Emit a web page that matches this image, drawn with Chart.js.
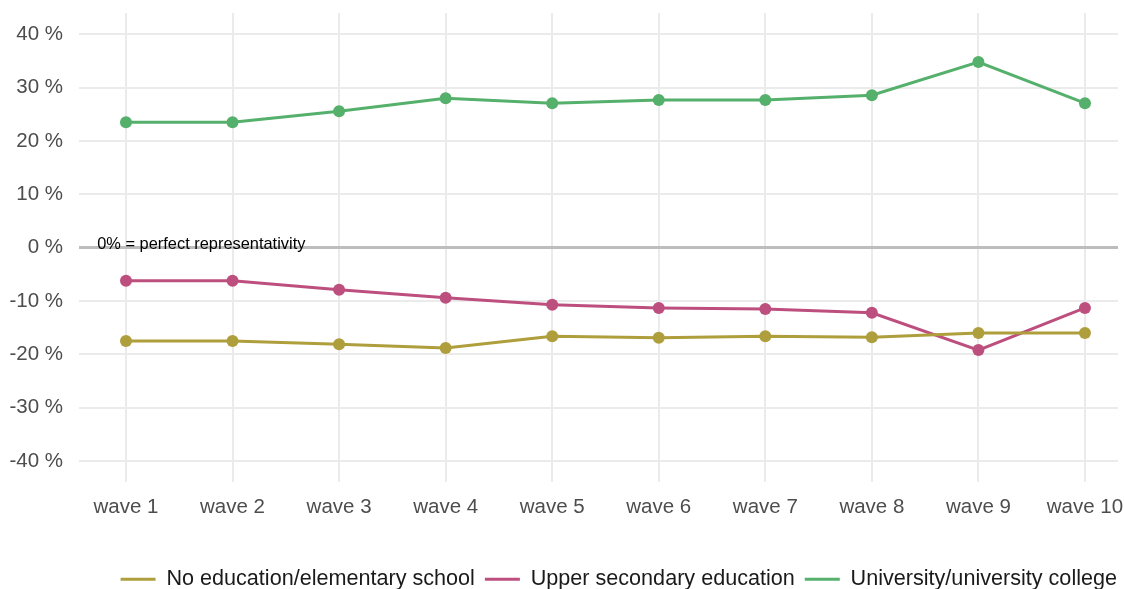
<!DOCTYPE html>
<html>
<head>
<meta charset="utf-8">
<script src="https://cdn.jsdelivr.net/npm/chart.js@4"></script>
<style>
  html, body { margin: 0; padding: 0; background: #fff; overflow: hidden; }
  #wrap { width: 1124px; height: 600px; }
</style>
</head>
<body>
<div id="wrap"><canvas id="myChart"></canvas></div>
<script>
const waves = ['wave 1', 'wave 2', 'wave 3', 'wave 4', 'wave 5', 'wave 6', 'wave 7', 'wave 8', 'wave 9', 'wave 10'];
const waveNumbers = [1, 2, 3, 4, 5, 6, 7, 8, 9, 10];

const seriesNames = ['No education/elementary school', 'Upper secondary education', 'University/university college'];
const noEducation = [-17.5, -17.5, -18.1, -18.8, -16.6, -16.9, -16.6, -16.8, -16.0, -16.0];
const upperSecondary = [-6.2, -6.2, -7.9, -9.4, -10.7, -11.3, -11.5, -12.2, -19.2, -11.3];
const university = [23.5, 23.5, 25.6, 28.0, 27.1, 27.7, 27.7, 28.6, 34.8, 27.1];

const yTicks = [-40, -30, -20, -10, 0, 10, 20, 30, 40];
const noteText = '0% = perfect representativity';

const colors = ['#af9e3c', '#bd4f7f', '#55b06c'];
const fontFamily = '"Liberation Sans", Arial, sans-serif';

function toPoints(values) {
  return values.map((v, i) => ({ x: waveNumbers[i], y: v }));
}

const data = {
  datasets: [noEducation, upperSecondary, university].map((vals, i) => ({
    label: seriesNames[i],
    data: toPoints(vals),
    borderColor: colors[i],
    backgroundColor: colors[i],
    borderWidth: 3,
    pointRadius: 6,
    pointHoverRadius: 6,
    pointBorderWidth: 0,
    tension: 0
  }))
};

// text label sitting on the zero line
const notePlugin = {
  id: 'notePlugin',
  afterDatasetsDraw(chart) {
    const ctx = chart.ctx;
    const x = chart.scales.x.getPixelForValue(0.73);
    const y = chart.scales.y.getPixelForValue(0);
    ctx.save();
    ctx.font = '16.4px ' + fontFamily;
    ctx.fillStyle = '#000';
    ctx.textAlign = 'left';
    ctx.textBaseline = 'middle';
    ctx.fillText(noteText, x, y - 3);
    ctx.restore();
  }
};

const config = {
  type: 'line',
  data: data,
  options: {
    responsive: true,
    maintainAspectRatio: false,
    animation: false,
    layout: { padding: { top: 13, right: -3, left: 0, bottom: 0 } },
    plugins: {
      tooltip: { enabled: false },
      legend: {
        position: 'bottom',
        align: 'end',
        labels: {
          font: { family: fontFamily, size: 21.6 },
          color: '#1a1a1a',
          boxWidth: 35,
          boxHeight: 3,
          padding: 10,
          generateLabels(chart) {
            return chart.data.datasets.map((ds, i) => ({
              text: ds.label,
              fillStyle: ds.borderColor,
              strokeStyle: ds.borderColor,
              lineWidth: 0,
              datasetIndex: i,
              fontColor: '#1a1a1a'
            }));
          }
        }
      }
    },
    scales: {
      x: {
        type: 'linear',
        min: 0.559,
        max: 10.31,
        afterBuildTicks(scale) {
          scale.ticks = waveNumbers.map(v => ({ value: v }));
        },
        afterFit(scale) {
          scale.height = 76;
          scale.paddingLeft = 0;
          scale.paddingRight = 0;
        },
        grid: { color: '#ebebeb', lineWidth: 2, drawTicks: false },
        border: { display: false },
        ticks: {
          padding: 13,
          color: '#4d4d4d',
          font: { family: fontFamily, size: 20.5 },
          maxRotation: 0,
          callback: (v) => waves[waveNumbers.indexOf(v)]
        }
      },
      y: {
        min: -44,
        max: 44,
        afterBuildTicks(scale) {
          scale.ticks = yTicks.map(v => ({ value: v }));
        },
        afterFit(scale) {
          scale.width = 79;
          scale.paddingTop = 0;
          scale.paddingBottom = 0;
        },
        grid: {
          drawTicks: false,
          color: (c) => c.tick && c.tick.value === 0 ? '#bdbdbd' : '#ebebeb',
          lineWidth: (c) => c.tick && c.tick.value === 0 ? 3 : 2
        },
        border: { display: false },
        ticks: {
          padding: 16,
          color: '#4d4d4d',
          font: { family: fontFamily, size: 20.5 },
          callback: (v) => v + ' %'
        }
      }
    }
  },
  plugins: [notePlugin]
};

const myChart = new Chart(document.getElementById('myChart'), config);
</script>
</body>
</html>
